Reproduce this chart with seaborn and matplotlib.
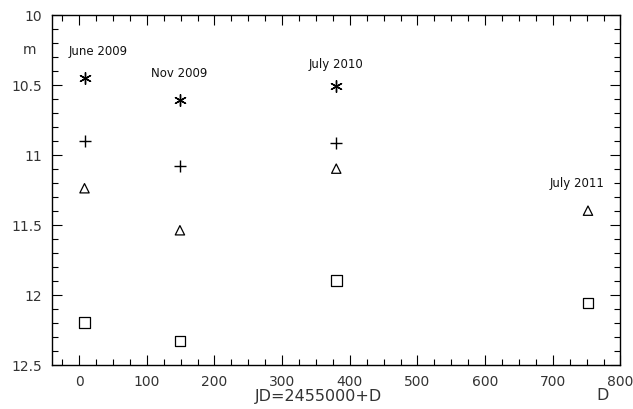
import numpy as np
import pandas as pd
import matplotlib
matplotlib.use("Agg")
import matplotlib.pyplot as plt
from matplotlib.ticker import MultipleLocator
import seaborn as sns

# Observation epochs (D = JD - 2455000) and magnitudes per symbol series
days = [8, 149, 380, 752]
mag_asterisk = [10.45, 10.61, 10.51, np.nan]
mag_plus = [10.90, 11.08, 10.92, np.nan]
mag_triangle = [11.24, 11.54, 11.10, 11.40]
mag_square = [12.20, 12.33, 11.90, 12.06]

epoch_labels = ["June 2009", "Nov 2009", "July 2010", "July 2011"]
epoch_label_x = [28, 148, 380, 736]
epoch_label_y = [10.26, 10.413, 10.35, 11.20]

x_ticks = [0, 100, 200, 300, 400, 500, 600, 700, 800]
y_ticks = [10, 10.5, 11, 11.5, 12, 12.5]

sns.set_theme(style="white")
plt.rcParams["font.family"] = ["DejaVu Sans"]

fig = plt.figure(figsize=(6.33, 4.10), dpi=100)
ax = fig.add_axes([0.0822, 0.108, 0.898, 0.854])

series = [
    (mag_asterisk, (6, 2, 0), 70, False),
    (mag_plus, "+", 65, False),
    (mag_triangle, "^", 45, True),
    (mag_square, "s", 60, True),
]
for mags, marker, size, hollow in series:
    df = pd.DataFrame({"D": days, "m": mags}).dropna()
    if hollow:
        sns.scatterplot(data=df, x="D", y="m", ax=ax, marker=marker, s=size,
                        facecolors="none", edgecolor="black", linewidth=0.9)
    else:
        sns.scatterplot(data=df, x="D", y="m", ax=ax, marker=marker, s=size,
                        color="black", linewidth=1.0)

for lab, lx, ly in zip(epoch_labels, epoch_label_x, epoch_label_y):
    ax.text(lx, ly, lab, ha="center", va="center", fontsize=8.5, color="#111111")

ax.set_xlim(-40, 800)
ax.set_ylim(12.5, 10)
ax.set_xticks(x_ticks)
ax.set_yticks(y_ticks)
ax.set_yticklabels(["10", "10.5", "11", "11.5", "12", "12.5"])
ax.xaxis.set_minor_locator(MultipleLocator(25))
ax.yaxis.set_minor_locator(MultipleLocator(0.1))
ax.tick_params(which="both", direction="in", top=True, right=True,
               bottom=True, left=True, color="black", width=0.8)
ax.tick_params(which="major", length=7, labelsize=10, labelcolor="#333333", pad=7)
ax.tick_params(which="minor", length=4)
ax.tick_params(axis="y", which="both", labelright=False)
ax.tick_params(axis="x", which="both", labeltop=False)
ax.set_xlabel("")
ax.set_ylabel("")
for sp in ax.spines.values():
    sp.set_color("black")
    sp.set_linewidth(1.0)

fig.text(29 / 633, 1 - 50 / 410, "m", ha="center", va="center", fontsize=10, color="#333333")
fig.text(318 / 633, 1 - 397 / 410, "JD=2455000+D", ha="center", va="center",
         fontsize=11.5, color="#333333")
fig.text(603 / 633, 1 - 396 / 410, "D", ha="center", va="center",
         fontsize=11.5, color="#333333")

fig.savefig("out.png", dpi=100, facecolor="white")
